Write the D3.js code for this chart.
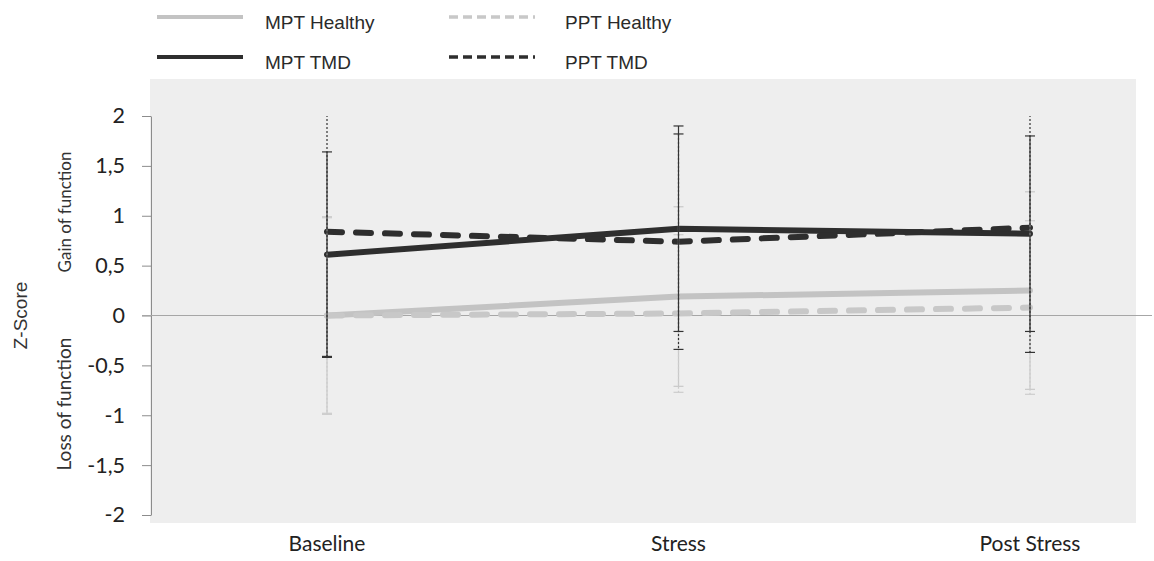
<!DOCTYPE html>
<html>
<head>
<meta charset="utf-8">
<script src="https://cdn.jsdelivr.net/npm/d3@7/dist/d3.min.js"></script>
<style>
  html, body { margin: 0; padding: 0; background: #ffffff; }
  svg { display: block; }
</style>
</head>
<body>
<svg id="chart" width="1154" height="561"></svg>
<script>
// Measurement phases on the x axis
const phases = ["Baseline", "Stress", "Post Stress"];

// Mean z-scores per group
const mptHealthy = [0.00, 0.19, 0.25];
const pptHealthy = [0.00, 0.02, 0.08];
const mptTMD     = [0.61, 0.87, 0.82];
const pptTMD     = [0.84, 0.74, 0.88];

// Standard deviations per group
const mptHealthySD = [0.99, 0.90, 0.99];
const pptHealthySD = [0.98, 0.79, 0.87];
const mptTMDSD     = [1.03, 1.03, 0.98];
const pptTMDSD     = [1.25, 1.08, 1.25];

// Y tick values and labels (decimal comma)
const yTicks = [2, 1.5, 1, 0.5, 0, -0.5, -1, -1.5, -2];
const yTickLabels = ["2", "1,5", "1", "0,5", "0", "-0,5", "-1", "-1,5", "-2"];

const series = [
  { name: "MPT Healthy", mean: mptHealthy, sd: mptHealthySD, color: "#c3c3c3", dashed: false, barColor: "#c8c8c8" },
  { name: "PPT Healthy", mean: pptHealthy, sd: pptHealthySD, color: "#c8c8c8", dashed: true,  barColor: "#cccccc" },
  { name: "MPT TMD",     mean: mptTMD,     sd: mptTMDSD,     color: "#2e2e2e", dashed: false, barColor: "#333333" },
  { name: "PPT TMD",     mean: pptTMD,     sd: pptTMDSD,     color: "#2e2e2e", dashed: true,  barColor: "#333333" }
];

const svg = d3.select("#chart");

const x = d3.scalePoint().domain(phases).range([327, 1030]);
const y = d3.scaleLinear().domain([-2, 2]).range([515, 116]);

// Plot panel background
svg.append("rect")
  .attr("x", 150).attr("y", 79)
  .attr("width", 986).attr("height", 444)
  .attr("fill", "#eeeeee");

// Y axis
const yAxis = d3.axisLeft(y)
  .tickValues(yTicks)
  .tickFormat((d, i) => yTickLabels[i])
  .tickSize(9)
  .tickSizeOuter(0)
  .tickPadding(17);

const gy = svg.append("g")
  .attr("transform", "translate(151,0)")
  .call(yAxis);
gy.select(".domain").attr("stroke", "#8c8c8c");
gy.selectAll(".tick line").attr("stroke", "#8c8c8c");
gy.selectAll(".tick text")
  .attr("fill", "#222")
  .style("font-family", "Lato, 'Open Sans', sans-serif")
  .style("font-size", "21.5px");

// Zero reference line
svg.append("line")
  .attr("x1", 142).attr("x2", 1152)
  .attr("y1", y(0)).attr("y2", y(0))
  .attr("stroke", "#a6a6a6").attr("stroke-width", 1);

// X category labels
svg.append("g").selectAll("text")
  .data(phases)
  .join("text")
  .attr("x", d => x(d))
  .attr("y", 551)
  .attr("text-anchor", "middle")
  .attr("fill", "#222")
  .style("font-family", "Lato, 'Open Sans', sans-serif")
  .style("font-size", "21px")
  .text(d => d);

// Axis titles
svg.append("text")
  .attr("transform", `translate(27,${y(0)}) rotate(-90)`)
  .attr("text-anchor", "middle")
  .attr("fill", "#333")
  .style("font-family", "'Liberation Sans', Arial, sans-serif")
  .style("font-size", "19px")
  .text("Z-Score");

svg.append("text")
  .attr("transform", `translate(71,212) rotate(-90)`)
  .attr("text-anchor", "middle")
  .attr("fill", "#333")
  .style("font-family", "Lato, 'Open Sans', sans-serif")
  .style("font-size", "17px")
  .text("Gain of function");

svg.append("text")
  .attr("transform", `translate(71,404) rotate(-90)`)
  .attr("text-anchor", "middle")
  .attr("fill", "#333")
  .style("font-family", "Lato, 'Open Sans', sans-serif")
  .style("font-size", "19px")
  .text("Loss of function");

// Clip for error bars at the top of the value range
svg.append("clipPath").attr("id", "plotClip")
  .append("rect")
  .attr("x", 140).attr("y", y(2))
  .attr("width", 1000).attr("height", y(-2) - y(2));

// Mean lines
const line = d3.line()
  .x((d, i) => x(phases[i]))
  .y(d => y(d));

const linesG = svg.append("g");
series.forEach(s => {
  linesG.append("path")
    .datum(s.mean)
    .attr("d", line)
    .attr("fill", "none")
    .attr("stroke", s.color)
    .attr("stroke-width", 6)
    .attr("stroke-linecap", "round")
    .attr("stroke-linejoin", "round")
    .attr("stroke-dasharray", s.dashed ? "15,14" : null);
});

// Error bars (mean ± SD)
const barsG = svg.append("g").attr("clip-path", "url(#plotClip)");
series.forEach(s => {
  const g = barsG.append("g");
  const dash = s.dashed ? "2,2" : null;
  s.mean.forEach((m, i) => {
    const cx = x(phases[i]);
    const lo = m - s.sd[i], hi = m + s.sd[i];
    g.append("line")
      .attr("x1", cx).attr("x2", cx)
      .attr("y1", y(hi)).attr("y2", y(lo))
      .attr("stroke", s.barColor).attr("stroke-width", 1.2)
      .attr("stroke-dasharray", dash);
    [lo, hi].forEach(v => {
      g.append("line")
        .attr("x1", cx - 5).attr("x2", cx + 5)
        .attr("y1", y(v)).attr("y2", y(v))
        .attr("stroke", s.barColor).attr("stroke-width", 1.2);
    });
  });
});

// Legend
const legendItems = [
  { s: series[0], lx: 157, ly: 17, tx: 265 },
  { s: series[1], lx: 449, ly: 17, tx: 565 },
  { s: series[2], lx: 157, ly: 57, tx: 265 },
  { s: series[3], lx: 449, ly: 57, tx: 565 }
];
const legend = svg.append("g");
legendItems.forEach(({ s, lx, ly, tx }) => {
  legend.append("line")
    .attr("x1", lx).attr("x2", lx + 86)
    .attr("y1", ly).attr("y2", ly)
    .attr("stroke", s.color)
    .attr("stroke-width", s.dashed ? 3.5 : 4)
    .attr("stroke-dasharray", s.dashed ? "9,5" : null);
  legend.append("text")
    .attr("x", tx)
    .attr("y", ly + 12)
    .attr("fill", "#2a2a2a")
    .style("font-family", "'Liberation Sans', Arial, sans-serif")
    .style("font-size", "19px")
    .text(s.name);
});
</script>
</body>
</html>
